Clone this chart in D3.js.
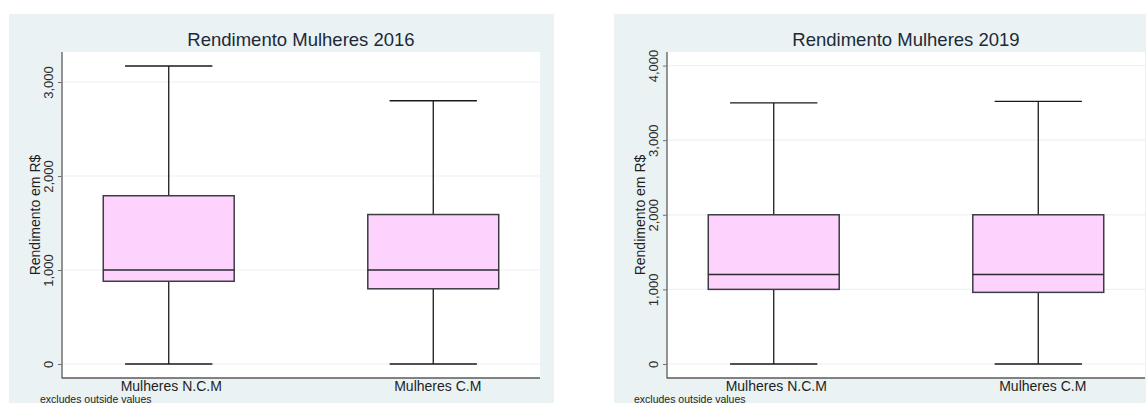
<!DOCTYPE html>
<html>
<head>
<meta charset="utf-8">
<script src="https://cdn.jsdelivr.net/npm/d3@7/dist/d3.min.js"></script>
<style>
  html, body { margin: 0; padding: 0; background: #ffffff; }
  svg { display: block; font-family: "Liberation Sans", Arial, sans-serif; }
</style>
</head>
<body>
<svg id="chart" width="1146" height="403"></svg>
<script>
// Box plot summaries of women's income (R$), excluding outside values
const categories = ["Mulheres N.C.M", "Mulheres C.M"];

const titles = ["Rendimento Mulheres 2016", "Rendimento Mulheres 2019"];

// 2016
const lower2016  = [0, 0];
const q1_2016    = [880, 800];
const median2016 = [1000, 1000];
const q3_2016    = [1790, 1590];
const upper2016  = [3170, 2800];
const ticks2016  = [0, 1000, 2000, 3000];

// 2019
const lower2019  = [0, 0];
const q1_2019    = [1000, 960];
const median2019 = [1200, 1200];
const q3_2019    = [2000, 2000];
const upper2019  = [3500, 3520];
const ticks2019  = [0, 1000, 2000, 3000, 4000];

const yTitle = "Rendimento em R$";
const note = "excludes outside values";

const panels = [
  { title: titles[0], lower: lower2016, q1: q1_2016, median: median2016, q3: q3_2016, upper: upper2016,
    ticks: ticks2016, domain: [-149, 3319], dx: 0, noteX: 40 },
  { title: titles[1], lower: lower2019, q1: q1_2019, median: median2019, q3: q3_2019, upper: upper2019,
    ticks: ticks2019, domain: [-188, 4182], dx: 605, noteX: 634 }
];

const svg = d3.select("#chart");
const BG = "#eaf2f3";
const fmt = d3.format(",");

panels.forEach(p => {
  const g = svg.append("g").attr("transform", `translate(${p.dx},0)`);

  // outer graph region
  g.append("rect").attr("x", 9).attr("y", 14).attr("width", 545).attr("height", 400).attr("fill", BG);

  const left = 62, right = 540, top = 52, bottom = 378;

  // plot region
  g.append("rect").attr("x", left).attr("y", top).attr("width", right - left).attr("height", bottom - top)
    .attr("fill", "#ffffff");

  const x = d3.scalePoint().domain(categories).range([left, right]).padding(0.4035);
  const y = d3.scaleLinear().domain(p.domain).range([bottom, top]);
  const step = x.step();
  const boxW = step * 0.495;
  const capW = step * 0.33;

  // grid lines
  g.append("g").selectAll("line").data(p.ticks).join("line")
    .attr("x1", left).attr("x2", right)
    .attr("y1", d => y(d)).attr("y2", d => y(d))
    .attr("stroke", BG).attr("stroke-width", 1.2);

  // y axis
  const yAxis = d3.axisLeft(y).tickValues(p.ticks).tickFormat(fmt).tickSize(4).tickPadding(5);
  const ya = g.append("g").attr("transform", `translate(${left},0)`).call(yAxis);
  ya.select(".domain").remove();
  ya.selectAll(".tick line").attr("stroke", "#6e6e6e").attr("stroke-width", 1);
  ya.selectAll(".tick text")
    .attr("x", null).attr("dy", null)
    .attr("transform", "translate(-9,0) rotate(-90)")
    .attr("text-anchor", "middle")
    .attr("font-size", 13).attr("fill", "#2b2b2b");
  g.append("line").attr("x1", left).attr("x2", left).attr("y1", top).attr("y2", bottom + 0.5)
    .attr("stroke", "#7a7a7a").attr("stroke-width", 1.6);

  // x axis
  const xAxis = d3.axisBottom(x).tickSize(0).tickPadding(3);
  const xa = g.append("g").attr("transform", `translate(0,${bottom})`).call(xAxis);
  xa.select(".domain").attr("stroke", "#5a5a5a").attr("stroke-width", 1.6)
    .attr("d", `M${left},0H${right}`);
  xa.selectAll(".tick text").attr("font-size", 14).attr("fill", "#1e1e1e").attr("dy", "0.72em")
    .attr("dx", (d, i) => i === 1 ? 4 : 2);

  // boxes
  const data = categories.map((c, i) => ({
    c, lo: p.lower[i], q1: p.q1[i], med: p.median[i], q3: p.q3[i], hi: p.upper[i]
  }));
  const bg = g.append("g").selectAll("g").data(data).join("g");

  bg.append("line").attr("x1", d => x(d.c)).attr("x2", d => x(d.c))
    .attr("y1", d => y(d.q3)).attr("y2", d => y(d.hi))
    .attr("stroke", "#1a1a1a").attr("stroke-width", 1.3);
  bg.append("line").attr("x1", d => x(d.c)).attr("x2", d => x(d.c))
    .attr("y1", d => y(d.q1)).attr("y2", d => y(d.lo))
    .attr("stroke", "#1a1a1a").attr("stroke-width", 1.3);
  bg.append("line").attr("x1", d => x(d.c) - capW / 2).attr("x2", d => x(d.c) + capW / 2)
    .attr("y1", d => y(d.hi)).attr("y2", d => y(d.hi))
    .attr("stroke", "#1a1a1a").attr("stroke-width", 1.4);
  bg.append("line").attr("x1", d => x(d.c) - capW / 2).attr("x2", d => x(d.c) + capW / 2)
    .attr("y1", d => y(d.lo)).attr("y2", d => y(d.lo))
    .attr("stroke", "#1a1a1a").attr("stroke-width", 1.4);
  bg.append("rect")
    .attr("x", d => x(d.c) - boxW / 2).attr("width", boxW)
    .attr("y", d => y(d.q3)).attr("height", d => y(d.q1) - y(d.q3))
    .attr("fill", "#fdd3fd").attr("stroke", "#3c3c44").attr("stroke-width", 1.5);
  bg.append("line").attr("x1", d => x(d.c) - boxW / 2).attr("x2", d => x(d.c) + boxW / 2)
    .attr("y1", d => y(d.med)).attr("y2", d => y(d.med))
    .attr("stroke", "#2a2a30").attr("stroke-width", 1.5);

  // titles
  g.append("text").attr("x", (left + right) / 2).attr("y", 46).attr("text-anchor", "middle")
    .attr("font-size", 18.5).attr("fill", "#1c2a38").text(p.title);
  g.append("text").attr("transform", `translate(39.5,${(top + bottom) / 2}) rotate(-90)`)
    .attr("text-anchor", "middle").attr("font-size", 14).attr("fill", "#1e1e1e").text(yTitle);
  g.append("text").attr("x", p.noteX - p.dx).attr("y", 402.5).attr("font-size", 10.5)
    .attr("fill", "#1e1e1e").text(note);
});
</script>
</body>
</html>
